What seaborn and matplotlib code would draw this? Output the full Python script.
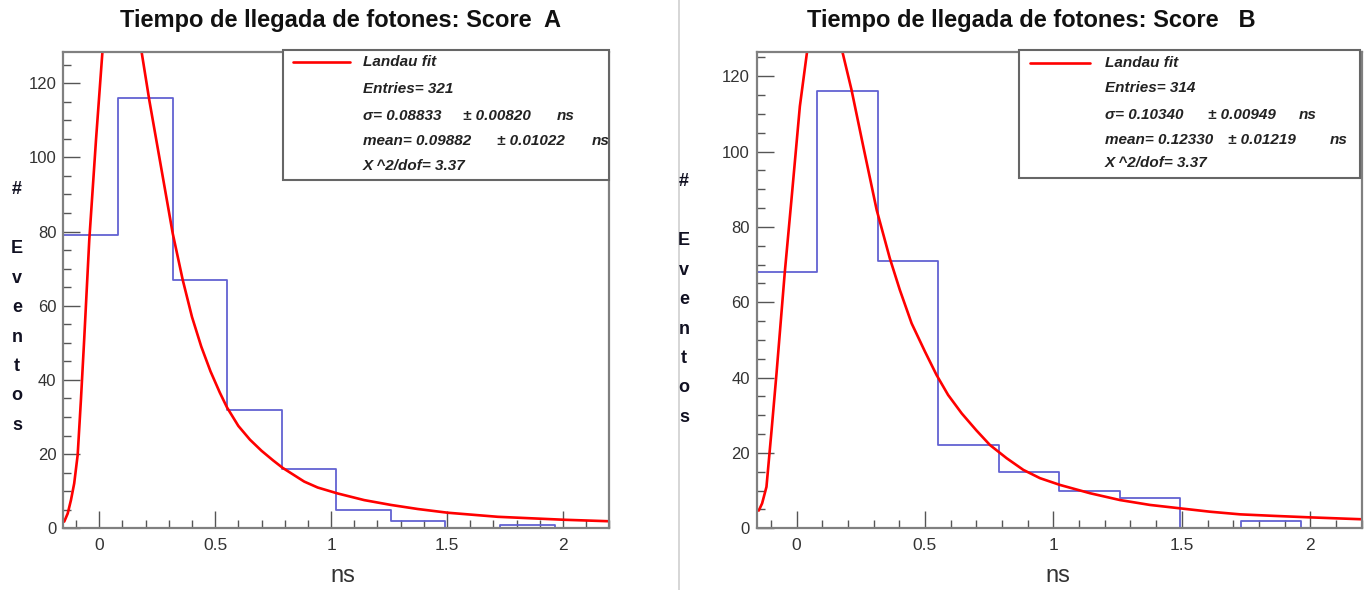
import numpy as np
import pandas as pd
import seaborn as sns
import matplotlib.pyplot as plt
from matplotlib.ticker import MultipleLocator, FuncFormatter
from matplotlib.patches import Rectangle
from matplotlib.lines import Line2D

# bin edges (ns), same binning for both scores
bin_edges = [-0.155, 0.08, 0.316, 0.551, 0.787, 1.022, 1.258, 1.493, 1.729, 1.964, 2.2]

# histogram counts
counts_a = [79, 116, 67, 32, 16, 5, 2, 0, 1, 0]
counts_b = [68, 116, 71, 22, 15, 10, 8, 0, 2, 0]

# Landau fit curve (rising branch / falling branch)
fit_a_rise_x = [-0.151, -0.136, -0.122, -0.108, -0.093, -0.079, -0.065, -0.043, -0.014, 0.015]
fit_a_rise_y = [1.8, 4.0, 7.6, 12.1, 19.8, 34.6, 50.8, 77.7, 104.7, 129.5]
fit_a_fall_x = [0.18, 0.216, 0.317, 0.36, 0.40, 0.44, 0.48, 0.52, 0.551, 0.60,
                0.65, 0.70, 0.75, 0.791, 0.884, 0.942, 1.028, 1.143, 1.258, 1.374,
                1.503, 1.719, 1.862, 2.006, 2.2]
fit_a_fall_y = [129.5, 115.4, 79.5, 67.0, 57.0, 49.0, 42.3, 36.6, 32.6, 27.6,
                23.9, 20.9, 18.3, 16.3, 12.6, 11.0, 9.4, 7.6, 6.3, 5.2,
                4.2, 3.1, 2.7, 2.3, 1.9]

fit_b_rise_x = [-0.147, -0.134, -0.117, -0.097, -0.078, -0.046, -0.02, 0.013, 0.043]
fit_b_rise_y = [4.7, 6.6, 11.0, 26.1, 41.0, 67.7, 87.0, 112.0, 127.5]
fit_b_fall_x = [0.175, 0.214, 0.26, 0.312, 0.363, 0.402, 0.448, 0.5, 0.545, 0.59,
                0.643, 0.70, 0.753, 0.818, 0.883, 0.948, 1.026, 1.143, 1.259,
                1.376, 1.493, 1.61, 1.727, 1.857, 2.0, 2.2]
fit_b_fall_y = [127.5, 116.4, 101.3, 84.5, 71.7, 63.3, 54.4, 46.9, 40.7, 35.4,
                30.5, 26.0, 22.1, 18.6, 15.5, 13.3, 11.5, 9.3, 7.5,
                6.2, 5.3, 4.4, 3.7, 3.3, 2.9, 2.4]

titles = ["Tiempo de llegada de fotones: Score  A", "Tiempo de llegada de fotones: Score   B"]
entries = [321, 314]
sigma = ["0.08833", "0.10340"]
sigma_err = ["0.00820", "0.00949"]
mean = ["0.09882", "0.12330"]
mean_err = ["0.01022", "0.01219"]
chi2 = ["3.37", "3.37"]
ylabel_chars = ["#", "", "E", "v", "e", "n", "t", "o", "s"]

sns.set_style("ticks")
plt.rcParams["font.family"] = ["Liberation Sans", "DejaVu Sans"]

W, H = 1364, 590
fig = plt.figure(figsize=(W / 100, H / 100), dpi=100)


def px(x, y):
    return x / W, 1 - y / H


def pbox(x0, y0, x1, y1):
    return [x0 / W, 1 - y1 / H, (x1 - x0) / W, (y1 - y0) / H]


panels = [
    dict(box=(63.3, 51.7, 609.3, 528.3), ymax=128.5, counts=counts_a,
         rise=(fit_a_rise_x, fit_a_rise_y), fall=(fit_a_fall_x, fit_a_fall_y),
         title_xy=(340, 20), ns_xy=(343, 576), ylab_x=17, ylab_y0=190,
         leg=(282.7, 50, 609.3, 180), line=(293, 350, 62), tx=362.7,
         rows=[62, 89, 116, 141, 166], pm_x=[463, 496.7], ns_x=[556.7, 591.7]),
    dict(box=(756.7, 51.7, 1361.7, 528.3), ymax=126.5, counts=counts_b,
         rise=(fit_b_rise_x, fit_b_rise_y), fall=(fit_b_fall_x, fit_b_fall_y),
         title_xy=(1031, 20), ns_xy=(1058, 576), ylab_x=684, ylab_y0=182,
         leg=(1019, 50, 1360, 178.3), line=(1030, 1090, 63), tx=1105,
         rows=[63, 88, 115, 140, 163], pm_x=[1208.3, 1228.3], ns_x=[1298.3, 1330]),
]

centers = [(bin_edges[i] + bin_edges[i + 1]) / 2 for i in range(len(bin_edges) - 1)]
frame_col = "#808080"
legend_font = dict(fontsize=11, fontweight="bold", fontstyle="italic", color="#222222")

for i, p in enumerate(panels):
    ax = fig.add_axes(pbox(*p["box"]))
    df = pd.DataFrame({"ns": centers, "n": p["counts"]})
    sns.histplot(data=df, x="ns", weights="n", bins=bin_edges, element="step",
                 fill=False, color="#6262d2", linewidth=1.3, ax=ax)
    sns.lineplot(x=p["rise"][0], y=p["rise"][1], color="red", linewidth=1.9,
                 sort=False, estimator=None, ax=ax)
    sns.lineplot(x=p["fall"][0], y=p["fall"][1], color="red", linewidth=1.9,
                 sort=False, estimator=None, ax=ax)

    ax.set_xlim(-0.155, 2.2)
    ax.set_ylim(0, p["ymax"])
    ax.set_xlabel("")
    ax.set_ylabel("")
    ax.xaxis.set_major_locator(MultipleLocator(0.5))
    ax.xaxis.set_minor_locator(MultipleLocator(0.1))
    ax.yaxis.set_major_locator(MultipleLocator(20))
    ax.yaxis.set_minor_locator(MultipleLocator(5))
    ax.xaxis.set_major_formatter(FuncFormatter(lambda v, pos: "%g" % v))
    ax.tick_params(which="both", direction="in", color="#555555", width=1.0,
                   top=False, right=False)
    ax.tick_params(which="major", length=12, labelsize=12, labelcolor="#333333", pad=5)
    ax.tick_params(axis="x", which="major", labelsize=12.5, pad=7)
    ax.tick_params(which="minor", length=6)
    for s in ax.spines.values():
        s.set_color(frame_col)
        s.set_linewidth(1.6)

    # stats box
    x0, y0, x1, y1 = p["leg"]
    fig.patches.append(Rectangle(px(x0, y1), (x1 - x0) / W, (y1 - y0) / H,
                                 transform=fig.transFigure, facecolor="white",
                                 edgecolor="#666666", linewidth=1.5, zorder=5))
    lx0, lx1, ly = p["line"]
    fig.add_artist(Line2D([lx0 / W, lx1 / W], [1 - ly / H, 1 - ly / H],
                          color="red", linewidth=1.9, zorder=6))
    r = p["rows"]
    tx = p["tx"]
    kw = dict(ha="left", va="center", zorder=6, **legend_font)
    fig.text(*px(tx, r[0]), "Landau fit", **kw)
    fig.text(*px(tx, r[1]), "Entries= %d" % entries[i], **kw)
    fig.text(*px(tx, r[2]), "σ= " + sigma[i], **kw)
    fig.text(*px(p["pm_x"][0], r[2]), "± " + sigma_err[i], **kw)
    fig.text(*px(p["ns_x"][0], r[2]), "ns", **kw)
    fig.text(*px(tx, r[3]), "mean= " + mean[i], **kw)
    fig.text(*px(p["pm_x"][1], r[3]), "± " + mean_err[i], **kw)
    fig.text(*px(p["ns_x"][1], r[3]), "ns", **kw)
    fig.text(*px(tx, r[4]), "Χ ^2/dof= " + chi2[i], **kw)

    # title, x label, stacked y label
    fig.text(*px(*p["title_xy"]), titles[i], ha="center", va="center",
             fontsize=17, fontweight="bold", color="#111111")
    fig.text(*px(*p["ns_xy"]), "ns", ha="center", va="center",
             fontsize=17, color="#333333")
    for k, ch in enumerate(ylabel_chars):
        if ch:
            fig.text(*px(p["ylab_x"], p["ylab_y0"] + 29.4 * k), ch, ha="center",
                     va="center", fontsize=13, fontweight="bold", color="#111122")

# separator between the two pads
fig.add_artist(Line2D([679 / W, 679 / W], [0, 1], color="#d0d0d0", linewidth=1.2))

fig.savefig("out.png", dpi=100)
